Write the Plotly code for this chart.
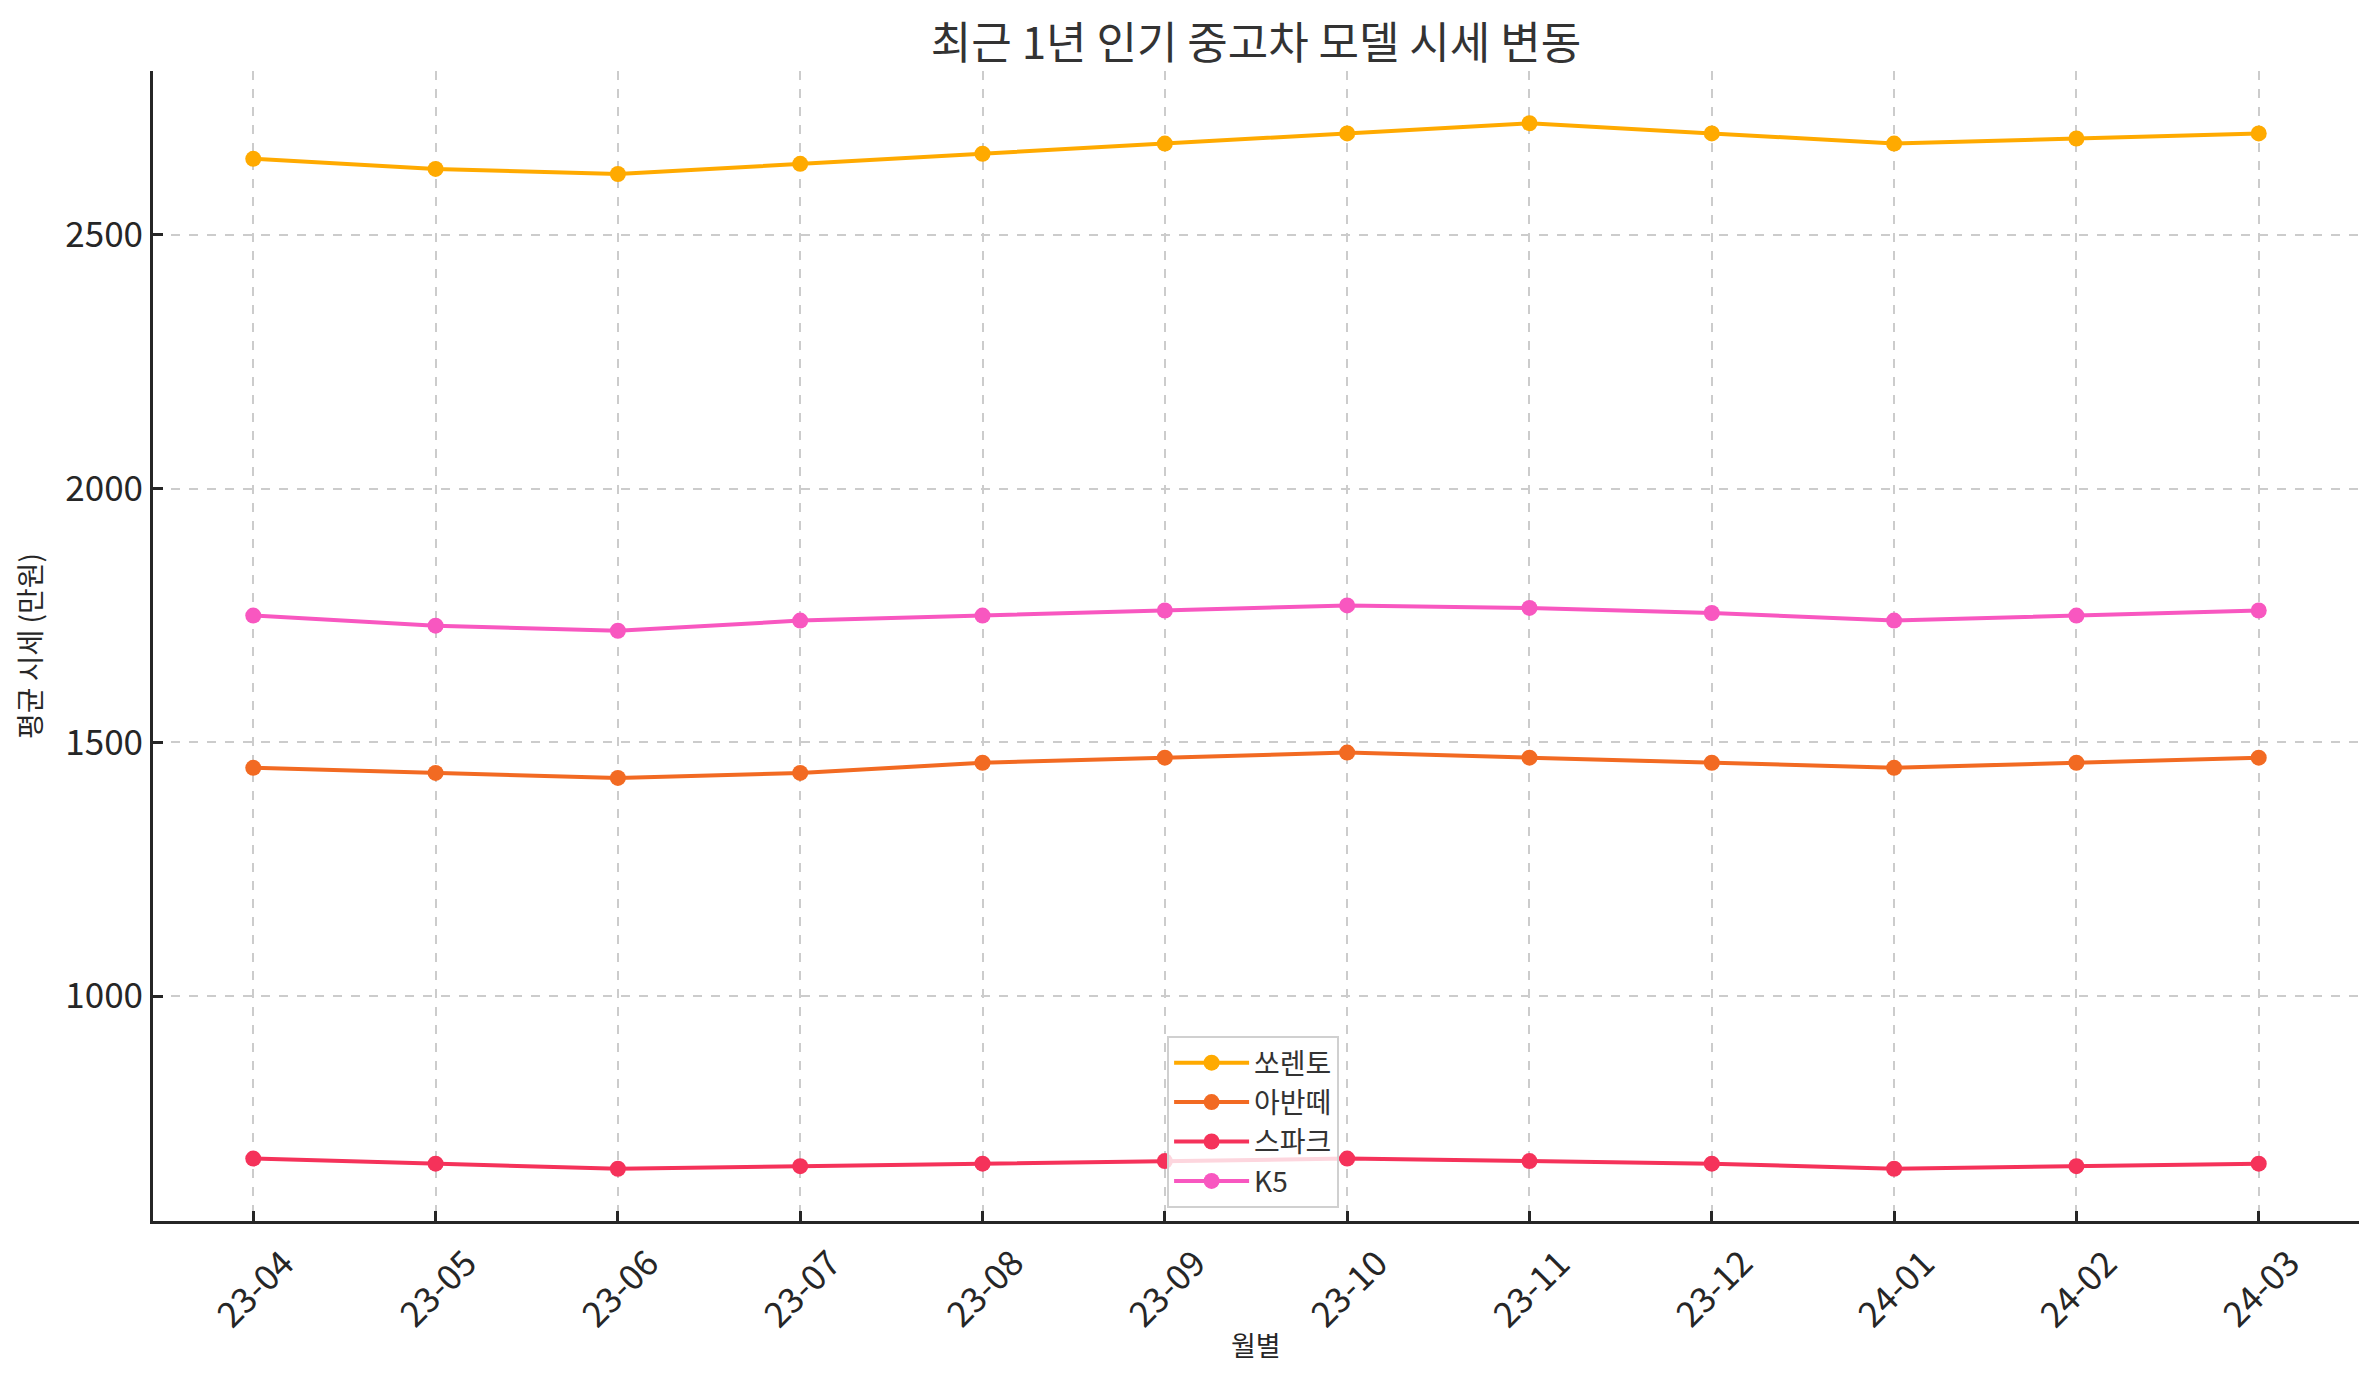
import plotly.graph_objects as go

# monthly labels and average prices (만원)
months = ["23-04", "23-05", "23-06", "23-07", "23-08", "23-09",
          "23-10", "23-11", "23-12", "24-01", "24-02", "24-03"]
sorento = [2650, 2630, 2620, 2640, 2660, 2680, 2700, 2720, 2700, 2680, 2690, 2700]
avante = [1450, 1440, 1430, 1440, 1460, 1470, 1480, 1470, 1460, 1450, 1460, 1470]
spark = [680, 670, 660, 665, 670, 675, 680, 675, 670, 660, 665, 670]
k5 = [1750, 1730, 1720, 1740, 1750, 1760, 1770, 1765, 1755, 1740, 1750, 1760]

model_names = ["쏘렌토", "아반떼", "스파크", "K5"]
model_colors = ["#FFAA00", "#F26A22", "#F5325A", "#F857C0"]
yticks = [1000, 1500, 2000, 2500]

FONT = "Noto Sans CJK KR, Noto Sans, sans-serif"
TXT = "#262626"

fig = go.Figure()
for name, vals, color in zip(model_names, [sorento, avante, spark, k5], model_colors):
    fig.add_trace(go.Scatter(
        x=months, y=vals, name=name, mode="lines+markers",
        line=dict(color=color, width=4),
        marker=dict(color=color, size=16),
    ))

# rotated month labels, centred under each tick like the original
for m in months:
    fig.add_annotation(
        x=m, y=-0.011, xref="x", yref="paper", text=m, showarrow=False,
        textangle=-45, xanchor="center", yanchor="top",
        font=dict(family=FONT, size=35, color=TXT),
    )

fig.add_annotation(
    x=0.5, y=-0.107, xref="paper", yref="paper", text="월별", showarrow=False,
    xanchor="center", yanchor="middle", font=dict(family=FONT, size=27, color=TXT),
)

fig.update_layout(
    width=2379, height=1380,
    margin=dict(l=145, r=28, t=63, b=167),
    paper_bgcolor="white", plot_bgcolor="white",
    font=dict(family=FONT, color=TXT),
    title=dict(text="최근 1년 인기 중고차 모델 시세 변동", x=0.5, xref="paper",
               y=1 - 36 / 1380, yref="container", yanchor="middle",
               font=dict(family=FONT, size=44, color="#333333")),
    legend=dict(x=0.4597, y=0.0113, xanchor="left", yanchor="bottom",
                bgcolor="rgba(255,255,255,0.8)", bordercolor="#d0d0d0", borderwidth=2,
                itemwidth=75,
                font=dict(family=FONT, size=28, color="#333333")),
    showlegend=True,
)
fig.update_xaxes(
    type="category", range=[-0.55, len(months) - 0.45],
    showline=True, linecolor=TXT, linewidth=3, mirror=False,
    ticks="inside", ticklen=10, tickwidth=2.5, tickcolor=TXT,
    showticklabels=False,
    showgrid=True, gridcolor="#cccccc", gridwidth=1.5, griddash="dash",
    zeroline=False,
)
fig.update_yaxes(
    range=[557, 2823], tickvals=yticks,
    showline=True, linecolor=TXT, linewidth=3, mirror=False,
    ticks="inside", ticklen=10, tickwidth=2.5, tickcolor=TXT,
    tickfont=dict(family=FONT, size=35, color=TXT),
    showgrid=True, gridcolor="#cccccc", gridwidth=1.5, griddash="dash",
    zeroline=False,
    title=dict(text="평균 시세 (만원)", standoff=16, font=dict(family=FONT, size=28, color=TXT)),
)

fig.write_html("out.html")
